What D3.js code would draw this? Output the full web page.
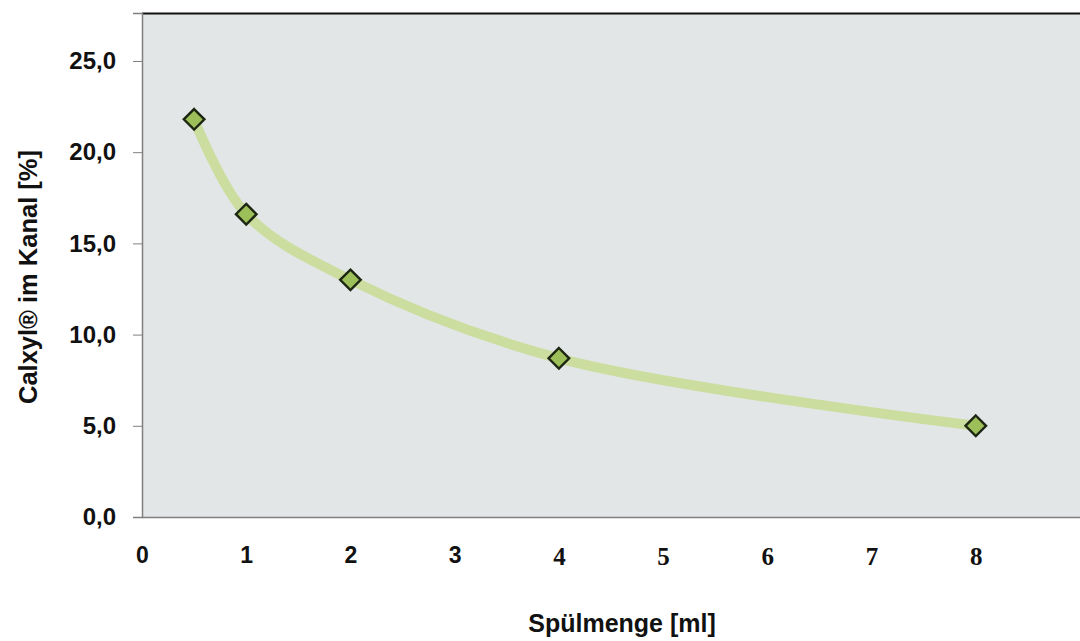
<!DOCTYPE html>
<html><head><meta charset="utf-8">
<script src="https://cdn.jsdelivr.net/npm/d3@7"></script>
<style>body{margin:0;background:#fff}svg{display:block}</style>
</head><body>
<svg id="c" width="1080" height="641"></svg>
<script>
const xValues = [0.5, 1, 2, 4, 8];
const yValues = [21.8, 16.6, 13.0, 8.7, 5.0];
const xTicks = [0,1,2,3,4,5,6,7,8];
const yTicks = [0,5,10,15,20,25];
const xTitle = "Spülmenge [ml]";
const yTitle = "Calxyl® im Kanal [%]";

const svg = d3.select("#c");
const L = 142, R = 1080, T = 13, B = 517;
const x = d3.scaleLinear().domain([0, 9]).range([L, R]);
const y = d3.scaleLinear().domain([0, 27.63]).range([B, T]);

svg.append("rect").attr("x", L).attr("y", T).attr("width", R - L).attr("height", B - T).attr("fill", "#e3e6e6");
svg.append("line").attr("x1", L).attr("x2", R).attr("y1", T + 0.5).attr("y2", T + 0.5).attr("stroke", "#111").attr("stroke-width", 2);

const yAxis = svg.append("g").attr("transform", `translate(${L},0)`)
  .call(d3.axisLeft(y).tickValues(yTicks).tickSize(9).tickPadding(17).tickFormat(d => d3.format(".1f")(d).replace(".", ",")));
yAxis.select(".domain").attr("stroke", "#808080").attr("stroke-width", 1.5);
yAxis.selectAll(".tick line").attr("stroke", "#808080");
yAxis.selectAll("text").style("font-family", "Liberation Sans, Arial, sans-serif").style("font-weight", "bold").style("font-size", "24px").attr("fill", "#111");

const xAxis = svg.append("g").attr("transform", `translate(0,${B})`)
  .call(d3.axisBottom(x).tickValues(xTicks).tickSize(0).tickPadding(30));
xAxis.select(".domain").attr("stroke", "#808080").attr("stroke-width", 1.5);
xAxis.selectAll("text")
  .style("font-family", d => d < 4 ? "Liberation Sans, Arial, sans-serif" : "Liberation Serif, Times New Roman, serif")
  .style("font-weight", "bold").style("font-size", d => d < 4 ? "23px" : "25px").attr("fill", "#111");

const pts = xValues.map((v, i) => [x(v), y(yValues[i])]);
const line = d3.line().curve(d3.curveCatmullRom.alpha(0.5));
svg.append("path").attr("d", line(pts)).attr("fill", "none").attr("stroke", "#cbdd9f").attr("stroke-width", 10).attr("stroke-linecap", "round");

const sym = d3.symbol().type(d3.symbolDiamond2).size(270);
svg.selectAll(".m").data(pts).join("path")
  .attr("transform", d => `translate(${d[0]},${d[1]})`)
  .attr("d", sym).attr("fill", "#9dbf5a").attr("stroke", "#1c2612").attr("stroke-width", 2.4);

svg.append("text").attr("x", 622).attr("y", 632).attr("text-anchor", "middle")
  .style("font-family", "Liberation Sans, Arial, sans-serif").style("font-weight", "bold").style("font-size", "25px").attr("fill", "#111").text(xTitle);
svg.append("text").attr("transform", "translate(37,277) rotate(-90)").attr("text-anchor", "middle")
  .style("font-family", "Liberation Sans, Arial, sans-serif").style("font-weight", "bold").style("font-size", "25.5px").attr("fill", "#111").text(yTitle);
</script>
</body></html>
